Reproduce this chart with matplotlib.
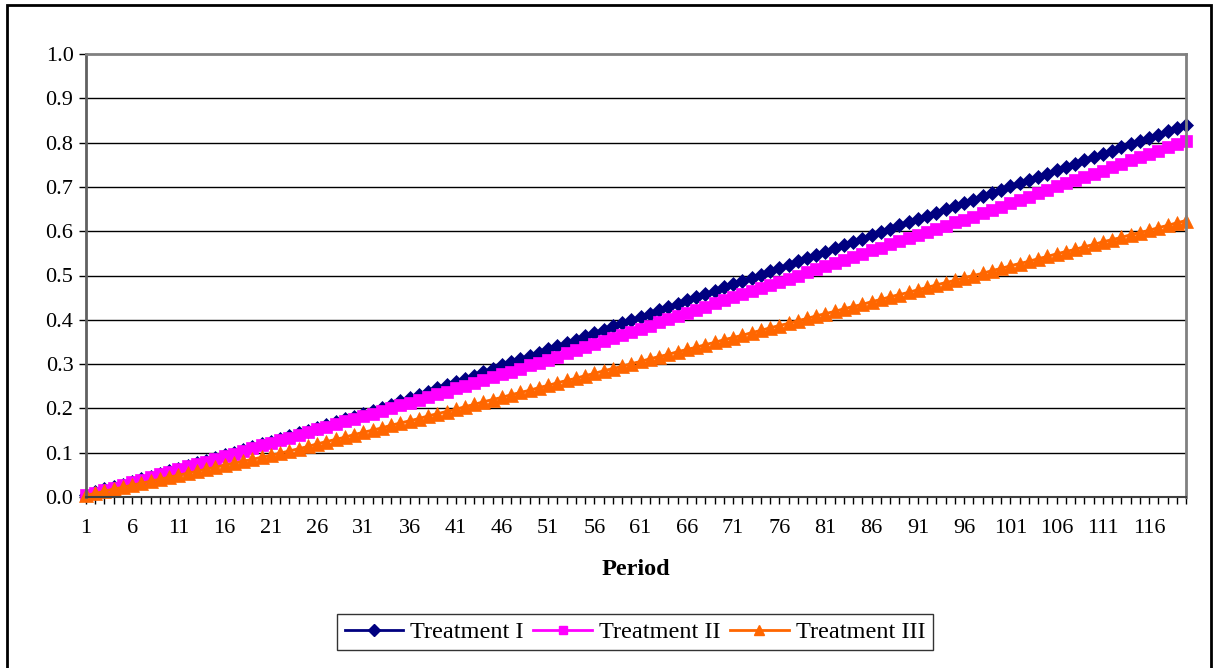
import matplotlib
matplotlib.use("Agg")
import matplotlib.pyplot as plt
from matplotlib.lines import Line2D
import numpy as np

periods = list(range(1, 121))

treatment_1 = [
    0.005, 0.011, 0.017, 0.022, 0.028, 0.034, 0.040, 0.046, 0.052, 0.058,
    0.064, 0.070, 0.076, 0.082, 0.088, 0.094, 0.100, 0.106, 0.113, 0.119,
    0.125, 0.131, 0.137, 0.144, 0.150, 0.156, 0.162, 0.169, 0.175, 0.181,
    0.188, 0.194, 0.201, 0.208, 0.216, 0.223, 0.230, 0.238, 0.245, 0.252,
    0.260, 0.267, 0.274, 0.282, 0.289, 0.297, 0.304, 0.311, 0.319, 0.326,
    0.333, 0.341, 0.348, 0.355, 0.363, 0.370, 0.377, 0.385, 0.392, 0.399,
    0.407, 0.414, 0.422, 0.429, 0.436, 0.444, 0.451, 0.458, 0.466, 0.473,
    0.480, 0.488, 0.495, 0.502, 0.510, 0.517, 0.524, 0.532, 0.539, 0.546,
    0.554, 0.561, 0.568, 0.576, 0.583, 0.591, 0.598, 0.605, 0.613, 0.620,
    0.627, 0.635, 0.642, 0.649, 0.657, 0.664, 0.671, 0.679, 0.686, 0.693,
    0.701, 0.708, 0.716, 0.723, 0.730, 0.738, 0.745, 0.752, 0.760, 0.767,
    0.774, 0.782, 0.789, 0.796, 0.804, 0.811, 0.818, 0.826, 0.833, 0.840,
]

treatment_2 = [
    0.004, 0.010, 0.016, 0.021, 0.027, 0.033, 0.039, 0.045, 0.051, 0.057,
    0.063, 0.069, 0.074, 0.080, 0.086, 0.092, 0.098, 0.104, 0.111, 0.117,
    0.122, 0.128, 0.134, 0.141, 0.147, 0.153, 0.158, 0.165, 0.171, 0.177,
    0.183, 0.188, 0.194, 0.200, 0.207, 0.213, 0.219, 0.226, 0.232, 0.238,
    0.245, 0.251, 0.257, 0.264, 0.270, 0.277, 0.283, 0.290, 0.297, 0.303,
    0.310, 0.317, 0.324, 0.331, 0.338, 0.345, 0.352, 0.359, 0.366, 0.373,
    0.380, 0.387, 0.395, 0.401, 0.408, 0.416, 0.423, 0.429, 0.437, 0.444,
    0.451, 0.458, 0.465, 0.472, 0.479, 0.486, 0.493, 0.500, 0.507, 0.514,
    0.521, 0.528, 0.535, 0.542, 0.549, 0.557, 0.563, 0.570, 0.578, 0.584,
    0.591, 0.599, 0.605, 0.612, 0.620, 0.626, 0.633, 0.641, 0.648, 0.655,
    0.663, 0.670, 0.678, 0.686, 0.693, 0.701, 0.708, 0.715, 0.723, 0.730,
    0.737, 0.745, 0.752, 0.760, 0.768, 0.775, 0.782, 0.790, 0.797, 0.804,
]

treatment_3 = [
    0.004, 0.008, 0.013, 0.018, 0.022, 0.027, 0.031, 0.036, 0.040, 0.045,
    0.049, 0.054, 0.058, 0.063, 0.067, 0.072, 0.076, 0.081, 0.085, 0.090,
    0.094, 0.099, 0.104, 0.109, 0.114, 0.120, 0.125, 0.130, 0.135, 0.141,
    0.146, 0.151, 0.156, 0.162, 0.167, 0.172, 0.177, 0.183, 0.188, 0.193,
    0.198, 0.204, 0.209, 0.215, 0.220, 0.225, 0.231, 0.236, 0.241, 0.247,
    0.252, 0.258, 0.263, 0.268, 0.274, 0.279, 0.285, 0.290, 0.295, 0.301,
    0.306, 0.312, 0.317, 0.322, 0.328, 0.333, 0.338, 0.344, 0.349, 0.355,
    0.360, 0.365, 0.371, 0.376, 0.382, 0.387, 0.392, 0.398, 0.403, 0.409,
    0.414, 0.419, 0.425, 0.430, 0.435, 0.441, 0.446, 0.452, 0.457, 0.462,
    0.468, 0.473, 0.479, 0.484, 0.489, 0.495, 0.500, 0.505, 0.511, 0.516,
    0.522, 0.527, 0.532, 0.538, 0.543, 0.549, 0.554, 0.559, 0.565, 0.570,
    0.576, 0.581, 0.586, 0.592, 0.597, 0.602, 0.608, 0.613, 0.619, 0.624,
]

series_names = ["Treatment I", "Treatment II", "Treatment III"]
series_colors = ["#000080", "#FF00FF", "#FF6600"]
series_markers = ["D", "s", "^"]
series_sizes = [7.5, 8.0, 9.5]

y_ticks = [0.0, 0.1, 0.2, 0.3, 0.4, 0.5, 0.6, 0.7, 0.8, 0.9, 1.0]
x_label_periods = list(range(1, 117, 5))

plt.rcParams["font.family"] = ["Liberation Serif", "DejaVu Serif"]

W, H = 1216, 668
fig = plt.figure(figsize=(W / 100, H / 100), dpi=100)
ax = fig.add_axes([86 / W, 1 - 497 / H, (1186 - 86) / W, (497 - 54) / H])

for vals, name, col, mk, ms in zip(
        [treatment_1, treatment_2, treatment_3],
        series_names, series_colors, series_markers, series_sizes):
    ax.plot(periods, vals, color=col, marker=mk, markersize=ms,
            markeredgecolor=col, markeredgewidth=0.5, linewidth=2,
            label=name, clip_on=False)

ax.set_xlim(1, 120)
ax.set_ylim(0, 1.0)
ax.set_yticks(y_ticks)
ax.set_yticklabels([f"{v:.1f}" for v in y_ticks])
ax.set_xticks(periods, minor=True)
ax.set_xticks(x_label_periods)
ax.set_xticklabels([str(p) for p in x_label_periods])
ax.tick_params(axis="both", which="both", direction="out", length=5,
               width=1, colors="black", labelsize=16)
ax.tick_params(axis="x", which="major", pad=11)
ax.tick_params(axis="y", pad=4)

for y in y_ticks[1:-1]:
    ax.axhline(y, color="black", linewidth=1, zorder=0.5)

ax.spines["top"].set_color("#808080")
ax.spines["right"].set_color("#808080")
ax.spines["top"].set_linewidth(2)
ax.spines["right"].set_linewidth(2)
ax.spines["left"].set_color("#606060")
ax.spines["left"].set_linewidth(2)
ax.spines["bottom"].set_color("#404040")
ax.spines["bottom"].set_linewidth(1.5)

ax.set_xlabel("Period", fontsize=17.5, fontweight="bold", labelpad=15)

handles = [Line2D([0], [0], color=c, marker=m, markersize=s * 0.8,
                  linewidth=2, markeredgecolor=c)
           for c, m, s in zip(series_colors, series_markers, series_sizes)]
leg = fig.legend(handles, series_names, loc="center",
                 bbox_to_anchor=(635 / W, 1 - 632 / H), ncol=3,
                 fontsize=17.5, frameon=True, fancybox=False,
                 handlelength=2.4, handletextpad=0.3, columnspacing=0.4,
                 borderpad=0.3, borderaxespad=0)
leg.get_frame().set_edgecolor("black")
leg.get_frame().set_linewidth(1)

# outer chart border
fig.add_artist(plt.Rectangle((7 / W, -0.01), (1211 - 7) / W, 1 - 5 / H + 0.01,
                             transform=fig.transFigure, fill=False,
                             edgecolor="black", linewidth=2))

fig.savefig("out.png", dpi=100)
